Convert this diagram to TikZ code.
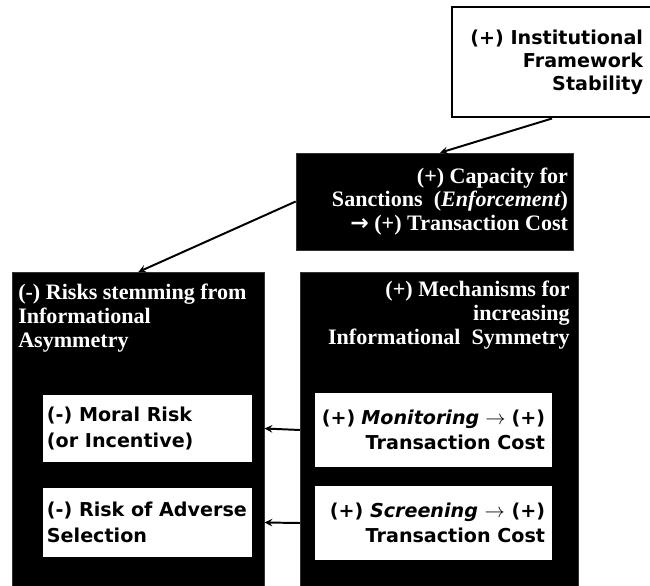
\documentclass[tikz,border=0pt]{standalone}
\usepackage{fontspec}
\newfontfamily\vsans{DejaVu Sans}
\newfontfamily\tserif{Liberation Serif}
\newcommand{\barrow}{{\vsans\bfseries →}}
\begin{document}
\begin{tikzpicture}[x=0.025cm, y=-0.025cm,
  sansbox/.style={fill=white, inner ysep=0pt,
                  font=\vsans\bfseries\fontsize{13.6}{16.5}\selectfont},
  innerbox/.style={sansbox, font=\vsans\bfseries\fontsize{13.6}{18}\selectfont},
  darkbox/.style={fill=black, draw=black!80, inner sep=0pt},
  whitetext/.style={text=white, inner sep=0pt,
                    font=\tserif\bfseries\fontsize{15.7}{17}\selectfont},
  arr/.style={->, >=stealth, line width=1.4pt}
]
\useasboundingbox (0,0) rectangle (650,585);
% Institutional framework box
\node[sansbox, draw=black, line width=2.1pt, minimum height=2.75cm,
      text width=4.55cm, inner xsep=0.225cm, align=flush right] (inst) at (552,62)
      {(+) Institutional\\Framework\\Stability};
% Enforcement box
\node[darkbox, whitetext, minimum height=2.425cm, text width=6.675cm,
      inner xsep=0.125cm, align=flush right] (enf) at (434.5,201.5)
      {(+) Capacity for\\Sanctions~~(\textit{Enforcement})\\\barrow\ (+) Transaction Cost};
% Asymmetry column
\node[darkbox, minimum width=6.3cm, minimum height=8.5cm, anchor=north west] (riskbox) at (12,272) {};
\node[whitetext, anchor=north west, align=left] (risktext) at (18,284)
      {(-) Risks stemming from\\Informational\\Asymmetry};
% Symmetry column
\node[darkbox, minimum width=6.95cm, minimum height=8.5cm, anchor=north west] (mechbox) at (300,272) {};
\node[whitetext, anchor=north east, align=right] (mechtext) at (570,281)
      {(+) Mechanisms for\\increasing\\Informational~~Symmetry};
% Risk boxes
\node[innerbox, minimum height=1.675cm, text width=5.025cm, inner xsep=0.1cm,
      align=flush left] (moral) at (147.5,428.5) {(-) Moral Risk\\(or Incentive)};
\node[innerbox, minimum height=1.725cm, text width=5.025cm, inner xsep=0.1cm,
      align=flush left] (adverse) at (147.5,522.5) {(-) Risk of Adverse\\Selection};
% Mechanism boxes
\node[innerbox, minimum height=1.85cm, text width=5.575cm, inner xsep=0.175cm,
      align=flush right] (monitor) at (433.5,430)
      {(+) \textit{Monitoring} $\rightarrow$ (+)\\Transaction Cost};
\node[innerbox, minimum height=1.85cm, text width=5.575cm, inner xsep=0.175cm,
      align=flush right] (screen) at (433.5,523)
      {(+) \textit{Screening} $\rightarrow$ (+)\\Transaction Cost};

\draw[arr] (inst.south) -- ([xshift=0.14cm]enf.north);
\draw[arr] (enf.west) -- (riskbox.north);
\draw[arr] (monitor.west -| mechbox.west) -- (moral.east -| riskbox.east);
\draw[arr] (screen.west -| mechbox.west) -- (adverse.east -| riskbox.east);
\end{tikzpicture}
\end{document}
